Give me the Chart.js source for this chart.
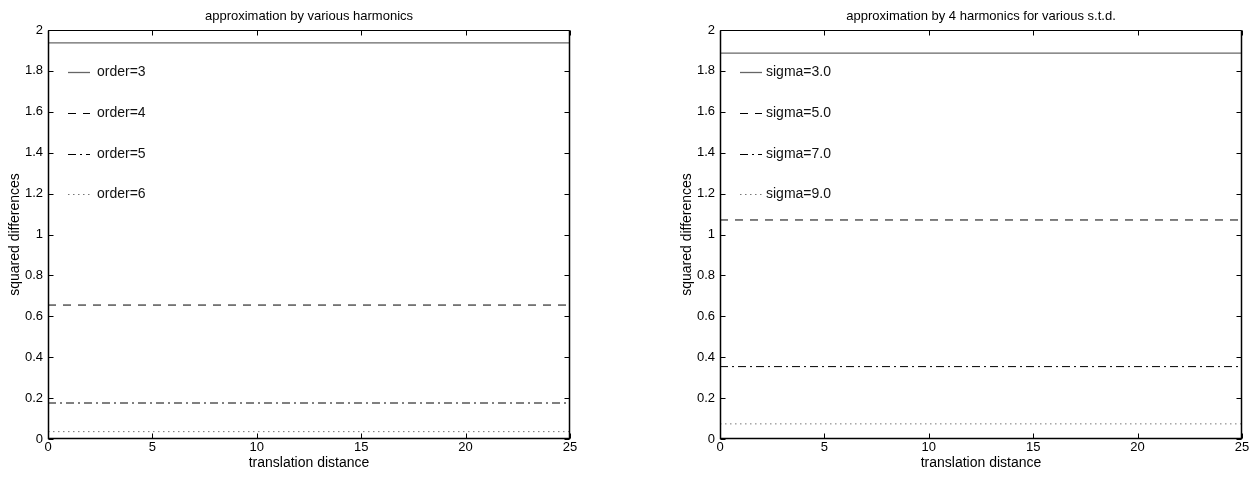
<!DOCTYPE html>
<html><head><meta charset="utf-8">
<script src="https://cdn.jsdelivr.net/npm/chart.js@4.4.1/dist/chart.umd.min.js"></script>
<style>
html,body{margin:0;padding:0;background:#fff;}
#wrap{position:relative;width:1260px;height:478px;background:#fff;}
canvas{position:absolute;top:0;}
</style></head><body>
<div id="wrap">
<canvas id="left" width="630" height="478" style="left:0"></canvas>
<canvas id="right" width="630" height="478" style="left:630px"></canvas>
</div>
<script>
// ---- data ----
const xTicks = [0, 5, 10, 15, 20, 25];
const yTicks = [0, 0.2, 0.4, 0.6, 0.8, 1, 1.2, 1.4, 1.6, 1.8, 2];
const distance = [0, 25];
const order3 = [1.937, 1.937];
const order4 = [0.655, 0.655];
const order5 = [0.176, 0.176];
const order6 = [0.036, 0.036];
const sigma3 = [1.887, 1.887];
const sigma5 = [1.071, 1.071];
const sigma7 = [0.354, 0.354];
const sigma9 = [0.074, 0.074];
const leftLabels = ['order=3', 'order=4', 'order=5', 'order=6'];
const rightLabels = ['sigma=3.0', 'sigma=5.0', 'sigma=7.0', 'sigma=9.0'];
const leftTitle = 'approximation by various harmonics';
const rightTitle = 'approximation by 4 harmonics for various s.t.d.';
const xLabel = 'translation distance';
const yLabel = 'squared differences';

// ---- styles ----
const FONT = '"Liberation Sans", Arial, Helvetica, sans-serif';
Chart.defaults.font.family = FONT;
Chart.defaults.color = '#000';
const lineStyles = [
  {color: 'rgba(0,0,0,0.6)', width: 1.3, dash: []},
  {color: '#000', width: 1, dash: [8, 7]},
  {color: '#000', width: 1, dash: [8, 4, 2, 4]},
  {color: '#777', width: 1, dash: [1.5, 3.5]}
];

function toPoints(xs, ys) { return xs.map((x, i) => ({x: x, y: ys[i]})); }

const framePlugin = {
  id: 'frame',
  afterDatasetsDraw(chart, args, opts) {
    const {ctx, chartArea: a, scales: {x, y}} = chart;
    const L = Math.round(a.left) + 0.5, R = Math.round(a.right) - 0.5;
    const T = Math.round(a.top) + 0.5, B = Math.round(a.bottom) - 0.5;
    ctx.save();
    ctx.strokeStyle = '#000';
    ctx.lineWidth = 1;
    ctx.beginPath();
    ctx.moveTo(L, T); ctx.lineTo(R, T);
    ctx.stroke();
    ctx.lineWidth = 1.5;
    ctx.beginPath();
    ctx.moveTo(L, T); ctx.lineTo(L, B); ctx.lineTo(R, B); ctx.lineTo(R, T);
    ctx.stroke();
    ctx.lineWidth = 1;
    ctx.beginPath();
    x.ticks.forEach(t => {
      const px = Math.round(x.getPixelForValue(t.value)) + 0.5;
      ctx.moveTo(px, B); ctx.lineTo(px, B - 5);
      ctx.moveTo(px, T); ctx.lineTo(px, T + 5);
    });
    y.ticks.forEach(t => {
      const py = Math.round(y.getPixelForValue(t.value)) + 0.5;
      ctx.moveTo(L, py); ctx.lineTo(L + 5, py);
      ctx.moveTo(R, py); ctx.lineTo(R - 5, py);
    });
    ctx.stroke();

    // legend
    ctx.font = '14px ' + FONT;
    ctx.textAlign = 'left';
    ctx.textBaseline = 'middle';
    chart.data.datasets.forEach((ds, i) => {
      const yy = Math.round(a.top + 42 + i * 40.8) + 0.5;
      ctx.strokeStyle = ds.borderColor;
      ctx.lineWidth = ds.borderWidth;
      ctx.setLineDash(ds.borderDash);
      ctx.beginPath();
      ctx.moveTo(a.left + 20, yy); ctx.lineTo(a.left + 42, yy);
      ctx.stroke();
      ctx.setLineDash([]);
      ctx.fillStyle = '#111';
      ctx.fillText(ds.label, a.left + opts.textOffset, yy);
    });

    // title
    ctx.font = '13px ' + FONT;
    ctx.textAlign = 'center';
    ctx.textBaseline = 'alphabetic';
    ctx.fillStyle = '#000';
    ctx.fillText(opts.title, (a.left + a.right) / 2, 19.5);
    ctx.restore();
  }
};

function makeChart(id, series, labels, title, pad, textOffset) {
  const datasets = series.map((s, i) => ({
    label: labels[i],
    data: toPoints(distance, s),
    borderColor: lineStyles[i].color,
    borderWidth: lineStyles[i].width,
    borderDash: lineStyles[i].dash,
    pointRadius: 0,
    fill: false,
    tension: 0
  }));
  return new Chart(document.getElementById(id), {
    type: 'line',
    data: {datasets: datasets},
    plugins: [framePlugin],
    options: {
      responsive: false,
      animation: false,
      events: [],
      layout: {padding: pad},
      plugins: {
        legend: {display: false},
        title: {display: false},
        tooltip: {enabled: false},
        frame: {title: title, textOffset: textOffset}
      },
      scales: {
        x: {
          type: 'linear', min: 0, max: 25,
          afterBuildTicks: sc => { sc.ticks = xTicks.map(v => ({value: v})); },
          afterFit: sc => { sc.height = 39; },
          grid: {display: false, drawTicks: false, tickLength: 0},
          border: {display: false},
          ticks: {font: {size: 13, lineHeight: 1}, padding: 1.5, color: '#000',
                  maxRotation: 0, autoSkip: false, callback: v => String(v)},
          title: {display: true, text: xLabel, font: {size: 14}, color: '#000',
                  padding: {top: 0, bottom: 6.2}}
        },
        y: {
          type: 'linear', min: 0, max: 2,
          afterBuildTicks: sc => { sc.ticks = yTicks.map(v => ({value: v})); },
          afterFit: sc => { sc.width = 48; },
          grid: {display: false, drawTicks: false, tickLength: 0},
          border: {display: false},
          ticks: {font: {size: 13}, padding: 5, color: '#000', autoSkip: false,
                  callback: v => String(v)},
          title: {display: true, text: yLabel, font: {size: 14}, color: '#000',
                  padding: {top: 6.6, bottom: 0}}
        }
      }
    }
  });
}

makeChart('left', [order3, order4, order5, order6], leftLabels, leftTitle,
          {top: 30, right: 60, left: 0, bottom: 0}, 49);
makeChart('right', [sigma3, sigma5, sigma7, sigma9], rightLabels, rightTitle,
          {top: 30, right: 18, left: 42, bottom: 0}, 46);
</script>
</body></html>
